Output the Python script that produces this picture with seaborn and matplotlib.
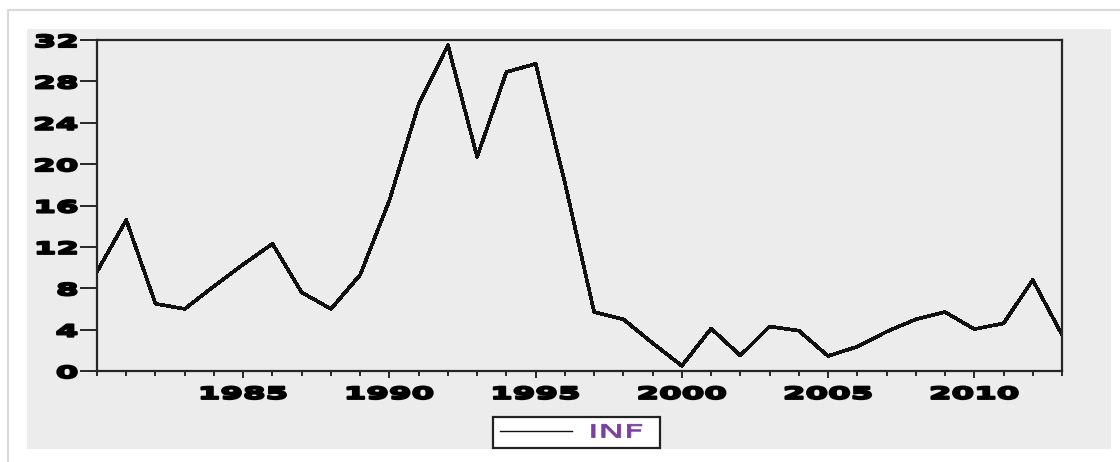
import matplotlib
matplotlib.use("Agg")
import matplotlib.pyplot as plt
import seaborn as sns
import pandas as pd
from matplotlib.patches import Rectangle
from matplotlib.lines import Line2D
from matplotlib.patheffects import AbstractPathEffect
from matplotlib.transforms import Affine2D
from matplotlib.ticker import MultipleLocator

# Annual inflation series
years = list(range(1980, 2014))
inf = [9.6, 14.6, 6.5, 6.0, 8.2, 10.3, 12.3, 7.6, 6.0, 9.3,
       16.5, 25.8, 31.5, 20.7, 28.9, 29.7, 18.2, 5.7, 5.0, 2.7,
       0.5, 4.1, 1.5, 4.3, 3.9, 1.45, 2.35, 3.8, 5.0, 5.7,
       4.05, 4.6, 8.8, 3.5]
series_name = "INF"
y_ticks = [0, 4, 8, 12, 16, 20, 24, 28, 32]
x_major = [1985, 1990, 1995, 2000, 2005, 2010]

df = pd.DataFrame({"year": years, series_name: inf})


class WideGlyphs(AbstractPathEffect):
    """Stretch text glyphs horizontally and optionally thicken them."""

    def __init__(self, sx=1.8, anchor="center", stroke=0.0):
        super().__init__()
        self.sx = sx
        self.anchor = anchor
        self.stroke = stroke

    def draw_path(self, renderer, gc, tpath, affine, rgbFace=None):
        ext = tpath.get_extents()
        if self.anchor == "right":
            cx = ext.x1
        elif self.anchor == "left":
            cx = ext.x0
        else:
            cx = 0.5 * (ext.x0 + ext.x1)
        stretch = Affine2D().translate(-cx, 0).scale(self.sx, 1).translate(cx, 0)
        gc0 = renderer.new_gc()
        gc0.copy_properties(gc)
        if self.stroke > 0:
            gc0.set_linewidth(self.stroke)
            gc0.set_foreground(rgbFace)
            gc0.set_joinstyle("round")
        else:
            gc0.set_linewidth(0)
        renderer.draw_path(gc0, tpath, stretch + affine, rgbFace)
        gc0.restore()


W, H = 1120, 462
fig = plt.figure(figsize=(W / 100, H / 100), dpi=100)
fig.patch.set_facecolor("white")

# card outline and grey panel behind the chart
fig.add_artist(Line2D([8 / W, 1], [1 - 10 / H] * 2, transform=fig.transFigure,
                      color="#d9d9d9", lw=1.5, zorder=-10))
fig.add_artist(Line2D([8 / W] * 2, [0, 1 - 10 / H], transform=fig.transFigure,
                      color="#d9d9d9", lw=1.5, zorder=-10))
fig.add_artist(Rectangle((27 / W, 1 - 449 / H), (1111 - 27) / W, (449 - 29) / H,
                         transform=fig.transFigure, facecolor="#ececec",
                         edgecolor="none", zorder=-5))

ax = fig.add_axes([97 / W, 1 - 371 / H, (1062 - 97) / W, (371 - 40) / H])
ax.set_facecolor("#ececec")

sns.lineplot(data=df, x="year", y=series_name, ax=ax, color="#111111",
             lw=1.9, antialiased=False, legend=False)

ax.set_xlim(1980, 2013)
ax.set_ylim(0, 32)
ax.set_xlabel("")
ax.set_ylabel("")
ax.set_yticks(y_ticks)
ax.set_xticks(x_major)
ax.xaxis.set_minor_locator(MultipleLocator(1))

for sp in ax.spines.values():
    sp.set_visible(True)
    sp.set_color("#262626")
    sp.set_linewidth(1.6)

ax.tick_params(axis="y", length=12, width=1.4, direction="out", pad=2,
               colors="#262626", labelcolor="black", labelsize=12)
ax.tick_params(axis="x", which="major", length=5, width=1.4, direction="out",
               pad=5, colors="#262626", labelcolor="black", labelsize=12)
ax.tick_params(axis="x", which="minor", length=3.5, width=1.4, direction="out",
               colors="#262626")

for lab in ax.get_yticklabels():
    lab.set_fontweight("bold")
    lab.set_path_effects([WideGlyphs(1.95, "right", 1.5)])
for lab in ax.get_xticklabels():
    lab.set_fontweight("bold")
    lab.set_path_effects([WideGlyphs(1.95, "center", 1.5)])

line = ax.get_lines()[0]
leg = fig.legend([line], [series_name + "\u00a0" * 6], loc="center",
                 bbox_to_anchor=(576.5 / W, 1 - 432.5 / H),
                 frameon=True, fancybox=False, edgecolor="#222222",
                 facecolor="white", framealpha=1, fontsize=13,
                 handlelength=4.0, handletextpad=1.0, borderpad=0.35,
                 borderaxespad=0)
leg.get_frame().set_linewidth(1.6)
leg.get_lines()[0].set_linewidth(1.0)
for t in leg.get_texts():
    t.set_color("#7b3f9e")
    t.set_path_effects([WideGlyphs(1.9, "left", 0.6)])

fig.savefig("out.png", dpi=100)
